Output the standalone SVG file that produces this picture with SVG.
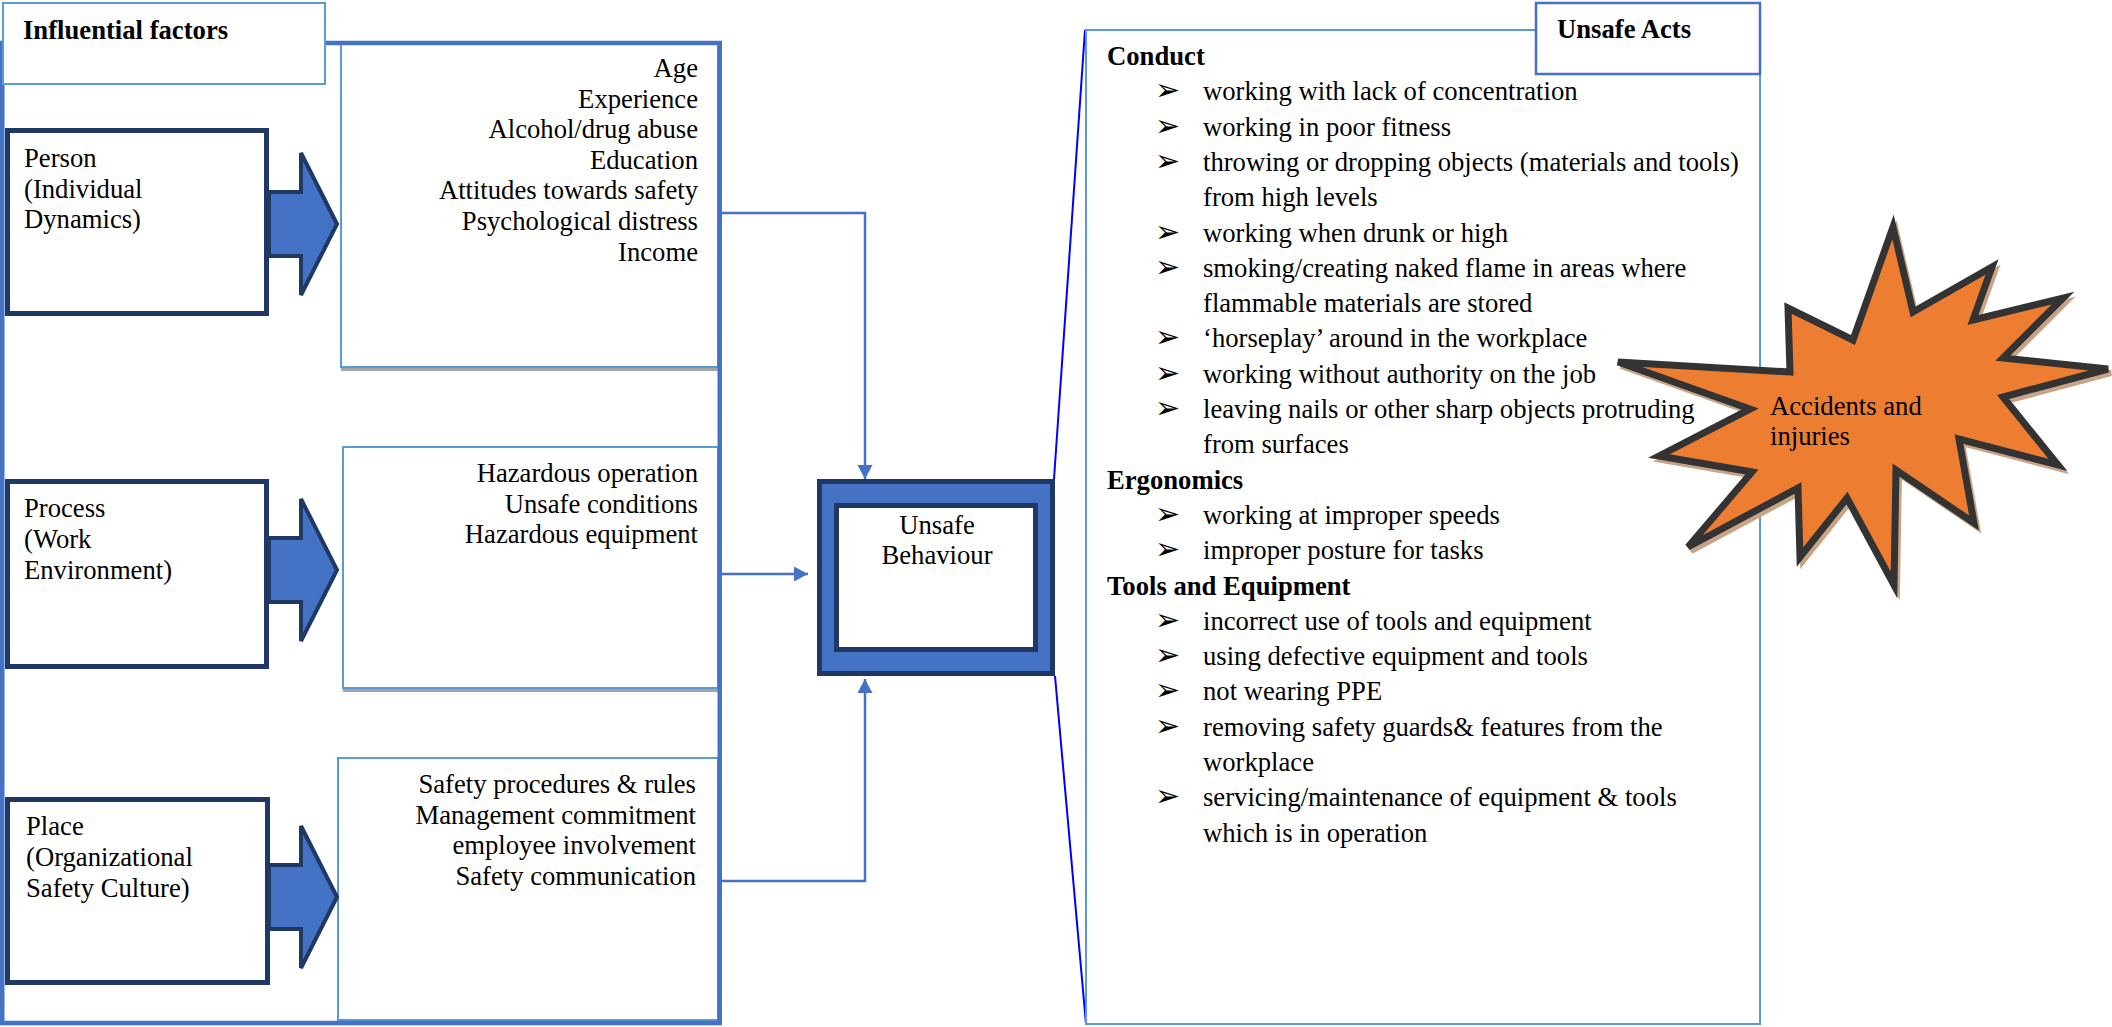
<svg xmlns="http://www.w3.org/2000/svg" xmlns:xlink="http://www.w3.org/1999/xlink" width="2112" height="1027" viewBox="0 0 2112 1027">
<defs>
<style>
text{font-family:"Liberation Serif","Times New Roman",serif;font-size:26.67px;fill:#000}
.b{font-weight:bold}
.r{text-anchor:end}
.c{text-anchor:middle}
.blt{font-family:"DejaVu Sans",sans-serif;font-size:30px}
.navy{fill:#fff;stroke:#203864;stroke-width:5}
.lbox{fill:#fff;stroke:#5B9BD5;stroke-width:2}
.shadow{fill:#A5A5A5}
.conn{fill:none;stroke:#4472C4;stroke-width:2.5}
.call{fill:none;stroke:#0000FF;stroke-width:2}
</style>
<marker id="ah" markerUnits="userSpaceOnUse" markerWidth="16" markerHeight="16" refX="14" refY="7.5" orient="auto">
<path d="M0,0 L14,7.5 L0,15 Z" fill="#4472C4"/>
</marker>
<path id="barrow" d="M269,-32 H301 V-71 L337,0 L301,71 V32 H269 Z" fill="#4472C4" stroke="#203864" stroke-width="4"/>
</defs>
<rect width="2112" height="1027" fill="#fff"/>

<g id="factor-boxes">
<g id="box-person-factors">
<rect class="shadow" x="341" y="47" width="377" height="324"/>
<rect class="lbox" x="341" y="43" width="377" height="324"/>
<text class="r" x="698" y="77">Age</text>
<text class="r" x="698" y="107.5">Experience</text>
<text class="r" x="698" y="138">Alcohol/drug abuse</text>
<text class="r" x="698" y="168.5">Education</text>
<text class="r" x="698" y="199">Attitudes towards safety</text>
<text class="r" x="698" y="230">Psychological distress</text>
<text class="r" x="698" y="261">Income</text>
</g>
<g id="box-process-factors">
<rect class="shadow" x="343" y="451" width="375" height="241"/>
<rect class="lbox" x="343" y="447" width="375" height="241"/>
<text class="r" x="698" y="482">Hazardous operation</text>
<text class="r" x="698" y="512.5">Unsafe conditions</text>
<text class="r" x="698" y="543">Hazardous equipment</text>
</g>
<g id="box-place-factors">
<rect class="lbox" x="338" y="758" width="380" height="262"/>
<text class="r" x="696" y="793">Safety procedures &amp; rules</text>
<text class="r" x="696" y="823.5">Management commitment</text>
<text class="r" x="696" y="854">employee involvement</text>
<text class="r" x="696" y="885">Safety communication</text>
</g>
</g>

<g id="influential-frame">
<rect x="2.25" y="43" width="717.5" height="980" fill="none" stroke="#4472C4" stroke-width="4.5"/>
</g>
<g id="influential-label">
<rect x="3" y="3" width="322" height="81" fill="#fff" stroke="#5B9BD5" stroke-width="2"/>
<text class="b" x="23" y="39">Influential factors</text>
</g>

<g id="person">
<rect class="navy" x="7.5" y="130.5" width="259" height="183"/>
<text x="24" y="167">Person</text>
<text x="24" y="197.5">(Individual</text>
<text x="24" y="228">Dynamics)</text>
<use xlink:href="#barrow" href="#barrow" transform="translate(0,224)"/>
</g>
<g id="process">
<rect class="navy" x="7.5" y="481.5" width="259" height="185"/>
<text x="24" y="517">Process</text>
<text x="24" y="548">(Work</text>
<text x="24" y="579">Environment)</text>
<use xlink:href="#barrow" href="#barrow" transform="translate(0,570)"/>
</g>
<g id="place">
<rect class="navy" x="7.5" y="799.5" width="260" height="183"/>
<text x="26" y="835">Place</text>
<text x="26" y="866">(Organizational</text>
<text x="26" y="897">Safety Culture)</text>
<use xlink:href="#barrow" href="#barrow" transform="translate(0,897)"/>
</g>

<g id="unsafe-behaviour">
<rect x="819.5" y="481.5" width="233" height="192" fill="#4472C4" stroke="#203864" stroke-width="5"/>
<rect class="navy" x="836.5" y="505.5" width="199" height="144"/>
<text class="c" x="937" y="534">Unsafe</text>
<text class="c" x="937" y="564">Behaviour</text>
</g>

<g id="connectors">
<path class="conn" d="M720,213 H865 V479" marker-end="url(#ah)"/>
<path class="conn" d="M721,574 H808" marker-end="url(#ah)"/>
<path class="conn" d="M721,881 H865 V679" marker-end="url(#ah)"/>
<path class="call" d="M1054,479 L1085,30"/>
<path class="call" d="M1055,676 L1086,1024"/>
</g>

<g id="unsafe-acts">
<rect x="1086" y="30" width="674" height="994" fill="#fff" stroke="#5B9BD5" stroke-width="2"/>
<rect x="1536" y="3" width="224" height="71" fill="#fff" stroke="#4472C4" stroke-width="2.5"/>
<text class="b" x="1557" y="38">Unsafe Acts</text>
<text class="b" x="1107" y="65">Conduct</text>
<text class="blt" x="1155" y="100.3">➢</text><text x="1203" y="100.3">working with lack of concentration</text>
<text class="blt" x="1155" y="135.6">➢</text><text x="1203" y="135.6">working in poor fitness</text>
<text class="blt" x="1155" y="170.9">➢</text><text x="1203" y="170.9">throwing or dropping objects (materials and tools)</text>
<text x="1203" y="206.2">from high levels</text>
<text class="blt" x="1155" y="241.5">➢</text><text x="1203" y="241.5">working when drunk or high</text>
<text class="blt" x="1155" y="276.8">➢</text><text x="1203" y="276.8">smoking/creating naked flame in areas where</text>
<text x="1203" y="312.1">flammable materials are stored</text>
<text class="blt" x="1155" y="347.4">➢</text><text x="1203" y="347.4">‘horseplay’ around in the workplace</text>
<text class="blt" x="1155" y="382.7">➢</text><text x="1203" y="382.7">working without authority on the job</text>
<text class="blt" x="1155" y="418">➢</text><text x="1203" y="418">leaving nails or other sharp objects protruding</text>
<text x="1203" y="453.3">from surfaces</text>
<text class="b" x="1107" y="488.6">Ergonomics</text>
<text class="blt" x="1155" y="523.9">➢</text><text x="1203" y="523.9">working at improper speeds</text>
<text class="blt" x="1155" y="559.2">➢</text><text x="1203" y="559.2">improper posture for tasks</text>
<text class="b" x="1107" y="594.5">Tools and Equipment</text>
<text class="blt" x="1155" y="629.8">➢</text><text x="1203" y="629.8">incorrect use of tools and equipment</text>
<text class="blt" x="1155" y="665.1">➢</text><text x="1203" y="665.1">using defective equipment and tools</text>
<text class="blt" x="1155" y="700.4">➢</text><text x="1203" y="700.4">not wearing PPE</text>
<text class="blt" x="1155" y="735.7">➢</text><text x="1203" y="735.7">removing safety guards&amp; features from the</text>
<text x="1203" y="771">workplace</text>
<text class="blt" x="1155" y="806.3">➢</text><text x="1203" y="806.3">servicing/maintenance of equipment &amp; tools</text>
<text x="1203" y="841.6">which is in operation</text>
</g>

<g id="accidents-injuries">
<polygon transform="translate(3,4)" fill="#C8A487" stroke="#C8A487" stroke-width="6" points="1618,362 1790,372 1788,308 1853,340 1893,227 1913,312 1992,267 1973,320 2063,298 2003,358 2108,369 2003,397 2058,465 1959,439 1974,523 1896,470 1894,585 1847,498 1800,557 1798,488 1688,547 1752,472 1659,456 1750,409"/>
<polygon fill="#ED7D31" stroke="#333333" stroke-width="7" stroke-linejoin="miter" points="1618,362 1790,372 1788,308 1853,340 1893,227 1913,312 1992,267 1973,320 2063,298 2003,358 2108,369 2003,397 2058,465 1959,439 1974,523 1896,470 1894,585 1847,498 1800,557 1798,488 1688,547 1752,472 1659,456 1750,409"/>
<text x="1770" y="415">Accidents and</text>
<text x="1770" y="445">injuries</text>
</g>
</svg>
